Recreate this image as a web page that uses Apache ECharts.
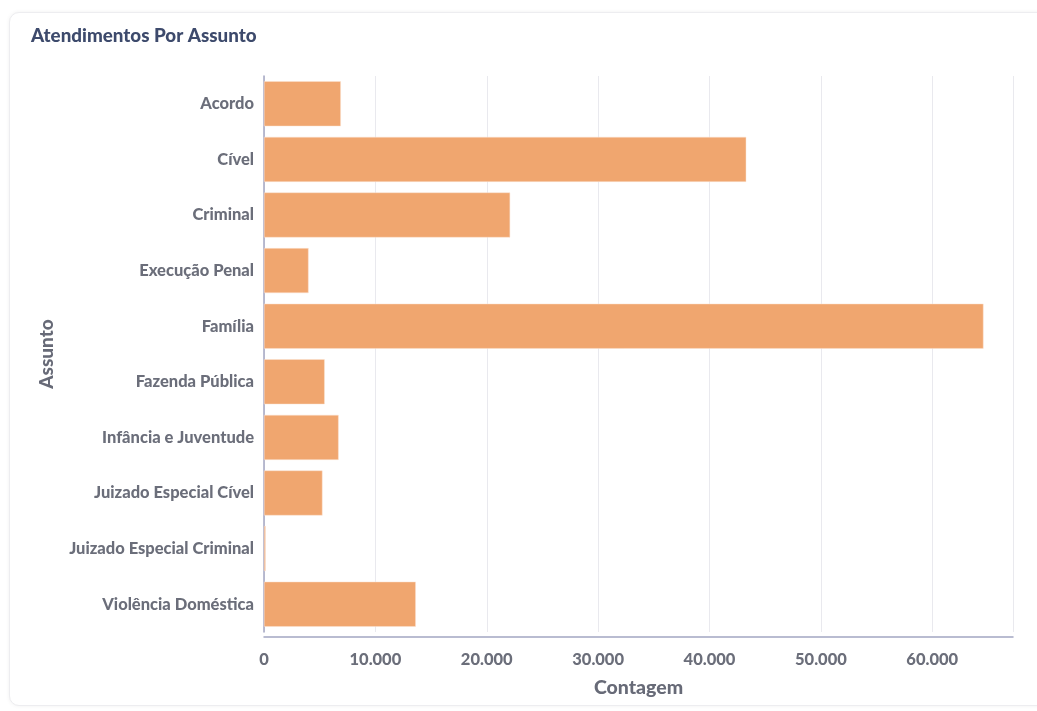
<!DOCTYPE html>
<html>
<head>
<meta charset="utf-8">
<script src="https://cdn.jsdelivr.net/npm/echarts@6/dist/echarts.min.js"></script>
<style>
html,body{margin:0;padding:0;background:#fff;width:1037px;height:711px;overflow:hidden;}
#card{position:absolute;left:9px;top:12px;width:1040px;height:692px;border:1px solid #ededf0;border-radius:10px;box-shadow:0 0 4px rgba(0,0,0,0.06);background:#fff;}
#chart{position:absolute;left:0;top:0;width:1037px;height:711px;}
</style>
</head>
<body>
<div id="card"></div>
<div id="chart"></div>
<script>
const categories = ["Acordo","Cível","Criminal","Execução Penal","Família","Fazenda Pública","Infância e Juventude","Juizado Especial Cível","Juizado Especial Criminal","Violência Doméstica"];
const counts = [6900, 43300, 22100, 4000, 64600, 5450, 6700, 5250, 150, 13630];
const xTicks = [0, 10000, 20000, 30000, 40000, 50000, 60000];

const chart = echarts.init(document.getElementById('chart'), null, {renderer:'canvas'});
const fmt = v => v.toLocaleString('pt-BR').replace(/,/g,'.');
const FONT = 'Lato';
chart.setOption({
  backgroundColor: 'transparent',
  animation: false,
  title: {
    text: 'Atendimentos Por Assunto',
    left: 26, top: 21,
    textStyle: {fontFamily: FONT, fontWeight: 900, fontSize: 18.8, color: '#3d4a6c'}
  },
  grid: {left: 264, right: 24, top: 76, bottom: 79, containLabel: false},
  xAxis: {
    type: 'value',
    min: 0, max: 67250, interval: 10000,
    offset: 5,
    name: 'Contagem', nameLocation: 'middle', nameGap: 41,
    nameTextStyle: {fontFamily: FONT, fontWeight: 900, fontSize: 19.5, color: '#676a77'},
    axisLine: {show: true, lineStyle: {color: '#a3a6c2', width: 1.5}},
    axisTick: {show: false},
    axisLabel: {
      fontFamily: FONT, fontWeight: 900, fontSize: 16.5, color: '#6b6e7a', margin: 14,
      showMaxLabel: false,
      formatter: v => xTicks.includes(v) ? fmt(v) : ''
    },
    splitLine: {show: true, lineStyle: {color: '#e9e9ee', width: 1}}
  },
  yAxis: {
    type: 'category',
    data: categories,
    inverse: true,
    name: 'Assunto', nameLocation: 'middle', nameGap: 208, nameRotate: 90,
    nameTextStyle: {fontFamily: FONT, fontWeight: 900, fontSize: 19, color: '#676a77'},
    axisLine: {show: true, lineStyle: {color: '#a3a6c2', width: 1.5}},
    axisTick: {show: false},
    axisLabel: {fontFamily: FONT, fontWeight: 900, fontSize: 16.5, color: '#6b6e7a', margin: 10},
    splitLine: {show: false}
  },
  series: [{
    type: 'bar',
    data: counts,
    barCategoryGap: '19%',
    itemStyle: {color: '#f0a66f', borderColor: '#fbe3d2', borderWidth: 0.5}
  }]
});
</script>
</body>
</html>
